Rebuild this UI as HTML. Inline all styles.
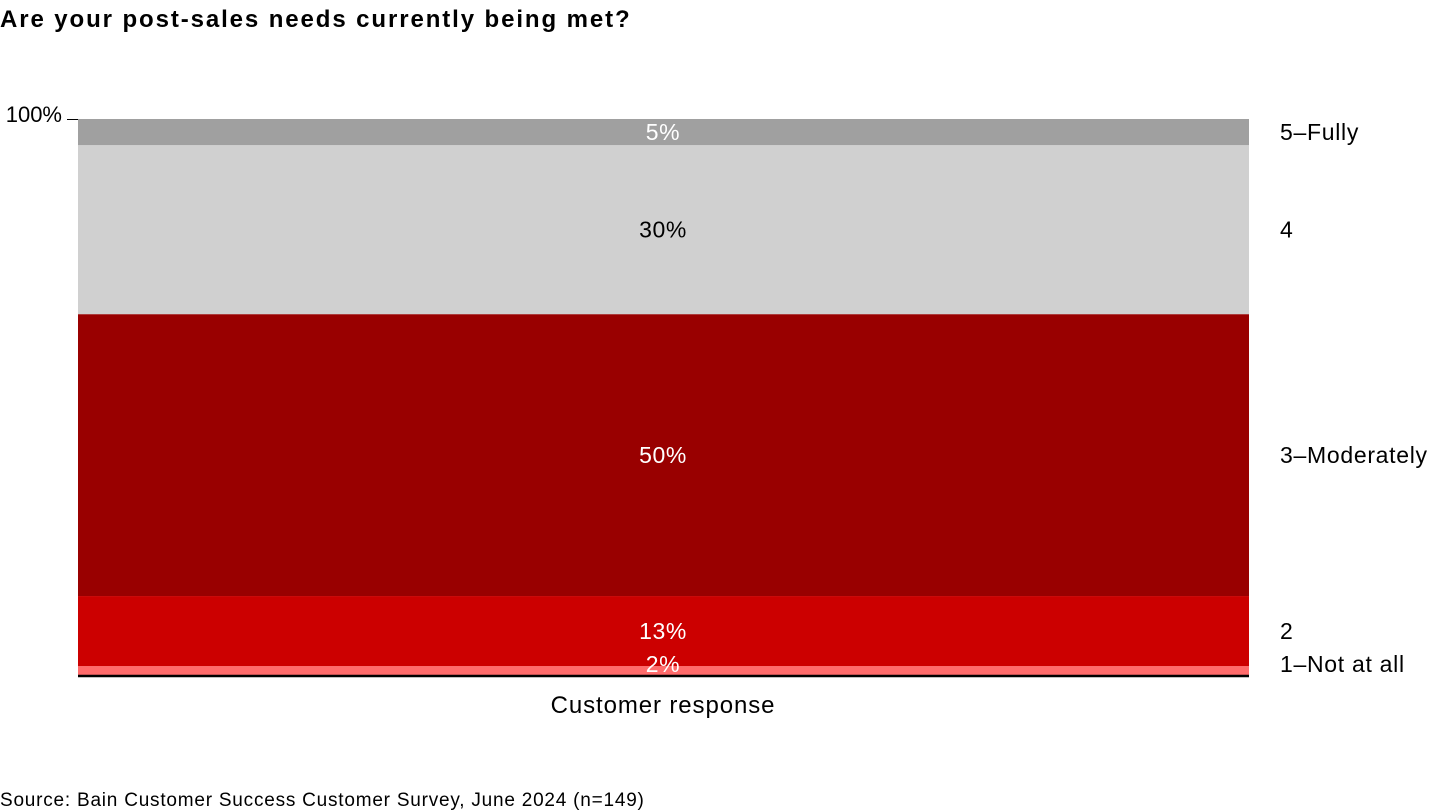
<!DOCTYPE html>
<html><head><meta charset="utf-8"><style>
body{margin:0;background:#fff;font-family:"Liberation Sans",sans-serif;}
svg{display:block}
</style></head><body>
<svg width="1440" height="810">
<text x="0" y="27" font-size="24" font-weight="bold" letter-spacing="1.9" fill="#000">Are your post-sales needs currently being met?</text>
<text x="62" y="122" font-size="22" fill="#000" text-anchor="end">100%</text>
<line x1="67" y1="119.5" x2="78" y2="119.5" stroke="#000" stroke-width="1"/>
<g id="bars"></g>
<line x1="78" y1="676" x2="1249" y2="676" stroke="#000" stroke-width="2.5"/>
<g id="labels"></g>
<text x="663" y="713" font-size="24" letter-spacing="0.9" fill="#000" text-anchor="middle">Customer response</text>
<text x="0" y="806" font-size="19" letter-spacing="0.78" fill="#000">Source: Bain Customer Success Customer Survey, June 2024 (n=149)</text>
</svg>
<script>
const categories = ["1–Not at all","2","3–Moderately","4","5–Fully"];
const values = [1.6, 12.6, 50.7, 30.4, 4.7];
const printed = ["2%","13%","50%","30%","5%"];
const colors = ["#ff6b6b","#cc0000","#990000","#d0d0d0","#a0a0a0"];
const labelColors = ["#fff","#fff","#fff","#000","#fff"];
const NS="http://www.w3.org/2000/svg";
const y0=675, y100=119, xL=78, xR=1249;
function y(v){return y0-(v/100)*(y0-y100);}
const g=document.getElementById('bars');
const lg=document.getElementById('labels');
let cum=0;
values.forEach((v,i)=>{
  const top=y(cum+v), bot=y(cum);
  const r=document.createElementNS(NS,'rect');
  r.setAttribute('x',xL);r.setAttribute('y',top);r.setAttribute('width',xR-xL);r.setAttribute('height',bot-top);
  r.setAttribute('fill',colors[i]);
  
  
  g.appendChild(r);
  const mid=Math.min((top+bot)/2, y0-11);
  const t=document.createElementNS(NS,'text');
  t.setAttribute('x',663);t.setAttribute('y',mid+8);t.setAttribute('font-size','23');
  t.setAttribute('letter-spacing','0.6');
  t.setAttribute('text-anchor','middle');t.setAttribute('fill',labelColors[i]);
  t.textContent=printed[i];
  
  
  lg.appendChild(t);
  const l=document.createElementNS(NS,'text');
  l.setAttribute('x',1280);l.setAttribute('y',mid+8);l.setAttribute('font-size','23');l.setAttribute('fill','#000');
  l.setAttribute('letter-spacing','0.7');
  l.textContent=categories[i];
  
  
  lg.appendChild(l);
  cum+=v;
});
</script>
</body></html>
